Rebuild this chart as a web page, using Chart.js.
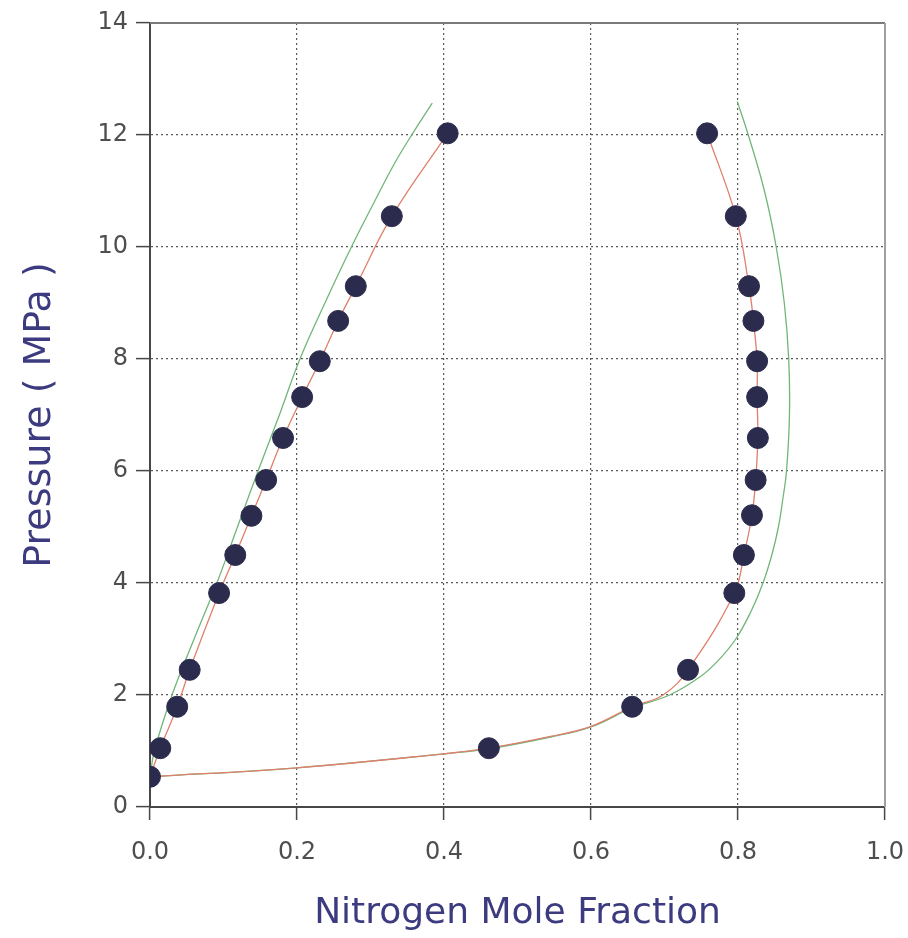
<!DOCTYPE html>
<html>
<head>
<meta charset="utf-8">
<script src="https://cdn.jsdelivr.net/npm/chart.js@4.4.0/dist/chart.umd.min.js"></script>
<style>
  html, body { margin: 0; padding: 0; background: #fff; }
</style>
</head>
<body>
<canvas id="diagram" width="908" height="938"></canvas>
<script>
// measured points, liquid side (N2 fraction in liquid)
var liquidX = [0.000, 0.014, 0.037, 0.054, 0.094, 0.116, 0.138, 0.158, 0.181, 0.207, 0.231, 0.256, 0.280, 0.329, 0.405];
var liquidP = [0.54, 1.05, 1.79, 2.45, 3.82, 4.50, 5.20, 5.84, 6.59, 7.32, 7.96, 8.68, 9.30, 10.55, 12.03];

// measured points, vapour side
var vaporX = [0.461, 0.656, 0.732, 0.795, 0.808, 0.819, 0.824, 0.827, 0.826, 0.826, 0.821, 0.815, 0.797, 0.758];
var vaporP = [1.05, 1.79, 2.45, 3.82, 4.50, 5.21, 5.84, 6.59, 7.32, 7.96, 8.68, 9.30, 10.55, 12.03];

// model 1 (red)
var redLiqX = [0.000, 0.014, 0.037, 0.054, 0.094, 0.116, 0.138, 0.158, 0.181, 0.207, 0.231, 0.256, 0.280, 0.329, 0.405];
var redLiqP = [0.54, 1.05, 1.79, 2.45, 3.82, 4.50, 5.20, 5.84, 6.59, 7.32, 7.96, 8.68, 9.30, 10.55, 12.03];
var redVapX = [0.000, 0.200, 0.400, 0.461, 0.545, 0.600, 0.656, 0.698, 0.732, 0.795, 0.808, 0.819, 0.824, 0.827, 0.826, 0.826, 0.821, 0.815, 0.797, 0.758];
var redVapP = [0.54, 0.70, 0.95, 1.05, 1.26, 1.44, 1.79, 2.00, 2.45, 3.82, 4.50, 5.21, 5.84, 6.59, 7.32, 7.96, 8.68, 9.30, 10.55, 12.03];

// model 2 (green)
var greenLiqX = [0.000, 0.006, 0.030, 0.060, 0.091, 0.119, 0.147, 0.176, 0.204, 0.238, 0.274, 0.305, 0.333, 0.357, 0.384];
var greenLiqP = [0.54, 1.00, 2.00, 3.00, 4.00, 5.00, 6.00, 7.00, 8.00, 9.00, 10.00, 10.80, 11.50, 12.02, 12.57];
var greenVapX = [0.000, 0.200, 0.400, 0.461, 0.545, 0.600, 0.656, 0.707, 0.748, 0.772, 0.797, 0.818, 0.834, 0.846, 0.855, 0.861, 0.866, 0.870, 0.869, 0.863, 0.852, 0.836, 0.814, 0.799];
var greenVapP = [0.54, 0.70, 0.95, 1.04, 1.25, 1.43, 1.77, 2.00, 2.32, 2.60, 3.00, 3.50, 4.00, 4.50, 5.00, 5.50, 6.00, 7.00, 8.00, 9.00, 10.00, 11.00, 12.00, 12.60];

function pts(xs, ys) {
    return xs.map(function(x, i) { return {x: x, y: ys[i]}; });
}

Chart.defaults.font.family = "'DejaVu Sans', 'Liberation Sans', sans-serif";

var dotColor = '#2b2b4d';
var redLine = 'rgb(222, 128, 108)';
var greenLine = 'rgb(112, 182, 122)';

function curve(data, color) {
    return {
        type: 'line',
        data: data,
        borderColor: color,
        borderWidth: 1.3,
        pointRadius: 0,
        tension: 0.4,
        fill: false
    };
}

// top and right frame lines
const frame = {
    id: 'frame',
    beforeDatasetsDraw(chart) {
        const a = chart.chartArea;
        const ctx = chart.ctx;
        ctx.save();
        ctx.lineWidth = 2;
        ctx.strokeStyle = '#7a7a7a';
        ctx.beginPath();
        ctx.moveTo(a.left, a.top);
        ctx.lineTo(a.right, a.top);
        ctx.stroke();
        ctx.strokeStyle = '#a0a0a0';
        ctx.beginPath();
        ctx.moveTo(a.right, a.top);
        ctx.lineTo(a.right, a.bottom);
        ctx.stroke();
        ctx.restore();
    }
};

function gridColor(max) {
    return function(c) {
        var v = c.tick ? c.tick.value : 0;
        if (v <= 0.0001 || v >= max - 0.0001) return 'rgba(0,0,0,0)';
        return '#5a5a5a';
    };
}

const config = {
    type: 'scatter',
    data: {
        datasets: [
            {
                label: 'liquid',
                data: pts(liquidX, liquidP),
                backgroundColor: dotColor,
                borderColor: dotColor,
                pointRadius: 10.5,
                pointHoverRadius: 10.5,
                showLine: false
            },
            {
                label: 'vapour',
                data: pts(vaporX, vaporP),
                backgroundColor: dotColor,
                borderColor: dotColor,
                pointRadius: 10.5,
                pointHoverRadius: 10.5,
                showLine: false
            },
            curve(pts(redLiqX, redLiqP), redLine),
            curve(pts(redVapX, redVapP), redLine),
            curve(pts(greenLiqX, greenLiqP), greenLine),
            curve(pts(greenVapX, greenVapP), greenLine)
        ]
    },
    options: {
        responsive: false,
        animation: false,
        devicePixelRatio: 1,
        layout: { padding: { left: 0, right: 23, top: 23, bottom: 0 } },
        plugins: {
            legend: { display: false },
            tooltip: { enabled: false }
        },
        scales: {
            x: {
                type: 'linear',
                min: 0,
                max: 1,
                afterFit: function(s) {
                    s.height = 131;
                    s.paddingLeft = 0;
                    s.paddingRight = 0;
                },
                ticks: {
                    stepSize: 0.2,
                    padding: 18,
                    color: '#4e4e4e',
                    font: { size: 24 },
                    callback: function(v) { return v.toFixed(1); }
                },
                grid: {
                    color: gridColor(1),
                    lineWidth: 1.2,
                    tickLength: 13,
                    tickColor: '#474747',
                    tickWidth: 1.5
                },
                border: { color: '#474747', width: 2, dash: [2, 3] },
                title: {
                    display: true,
                    text: 'Nitrogen Mole Fraction',
                    color: '#3c3b80',
                    font: { size: 36 },
                    padding: { top: 0, bottom: 3 }
                }
            },
            y: {
                min: 0,
                max: 14,
                afterFit: function(s) {
                    s.width = 150;
                    s.paddingTop = 0;
                    s.paddingBottom = 0;
                },
                ticks: {
                    stepSize: 2,
                    padding: 8,
                    color: '#4e4e4e',
                    font: { size: 24 }
                },
                grid: {
                    color: gridColor(14),
                    lineWidth: 1.2,
                    tickLength: 14,
                    tickColor: '#474747',
                    tickWidth: 1.5
                },
                border: { color: '#474747', width: 2, dash: [2, 3] },
                title: {
                    display: true,
                    text: 'Pressure ( MPa )',
                    color: '#3c3b80',
                    font: { size: 38 },
                    padding: { top: 17, bottom: 0 }
                }
            }
        }
    },
    plugins: [frame]
};

const myChart = new Chart(document.getElementById('diagram'), config);
</script>
</body>
</html>
